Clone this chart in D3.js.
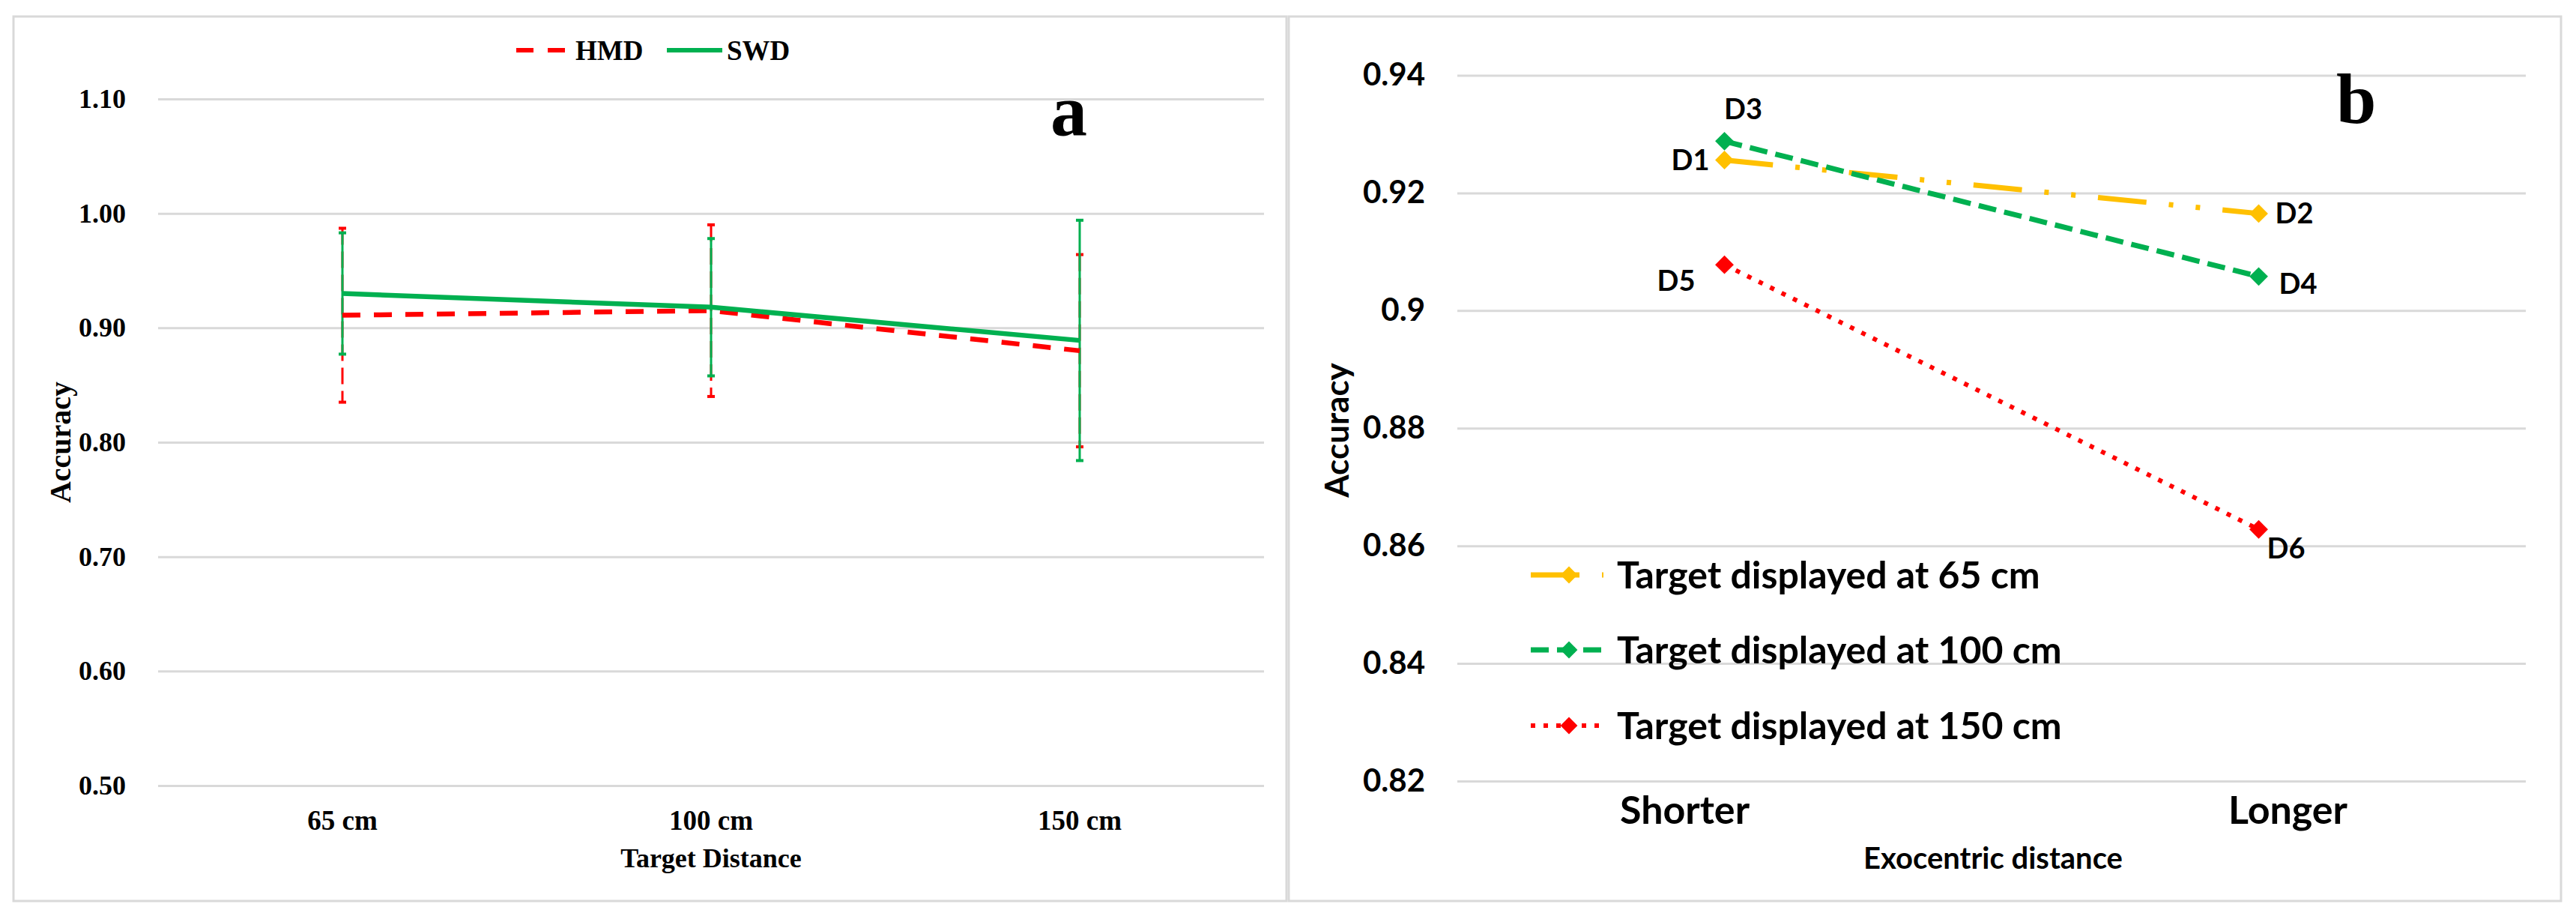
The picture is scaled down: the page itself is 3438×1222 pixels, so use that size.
<!DOCTYPE html>
<html><head><meta charset="utf-8">
<script src="https://cdn.jsdelivr.net/npm/d3@7"></script>
<style>html,body{margin:0;padding:0;background:#fff;} svg{display:block}</style>
</head><body>
<svg id="chart" width="3438" height="1222"></svg>
<script>
// ---------- data ----------
const distCategories = ["65 cm", "100 cm", "150 cm"];
const seriesNamesA = ["HMD", "SWD"];
const hmdMean = [0.911, 0.915, 0.880];
const hmdErr  = [0.076, 0.075, 0.084];
const swdMean = [0.930, 0.918, 0.889];
const swdErr  = [0.053, 0.060, 0.105];
const ticksA = [0.50, 0.60, 0.70, 0.80, 0.90, 1.00, 1.10];
const tickLabelsA = ["0.50", "0.60", "0.70", "0.80", "0.90", "1.00", "1.10"];

const exoCategories = ["Shorter", "Longer"];
const seriesNamesB = ["Target displayed at 65 cm", "Target displayed at 100 cm", "Target displayed at 150 cm"];
const acc65  = [0.9256, 0.9165];
const acc100 = [0.9288, 0.9058];
const acc150 = [0.9078, 0.8628];
const pointLabels65  = ["D1", "D2"];
const pointLabels100 = ["D3", "D4"];
const pointLabels150 = ["D5", "D6"];
const ticksB = [0.82, 0.84, 0.86, 0.88, 0.90, 0.92, 0.94];
const tickLabelsB = ["0.82", "0.84", "0.86", "0.88", "0.9", "0.92", "0.94"];

// ---------- styling ----------
const GRID = "#d9d9d9";
const RED = "#FF0000", GREEN = "#00B050", YELLOW = "#FFC000";
const serifFont = "'Liberation Serif','Times New Roman',serif";
const sansFont = "Lato,'Open Sans',sans-serif";

const svg = d3.select("#chart");
svg.append("rect").attr("width", 3438).attr("height", 1222).attr("fill", "#fff");

// panel borders
svg.append("rect").attr("x", 18).attr("y", 22).attr("width", 1699).attr("height", 1180)
  .attr("fill", "none").attr("stroke", GRID).attr("stroke-width", 3);
svg.append("rect").attr("x", 1720).attr("y", 22).attr("width", 1698).attr("height", 1180)
  .attr("fill", "none").attr("stroke", GRID).attr("stroke-width", 3);

// ================= Panel a =================
const xA = d3.scaleBand().domain(distCategories).range([211, 1687]);
const yA = d3.scaleLinear().domain([0.5, 1.1]).range([1048, 132]);
const cxA = c => xA(c) + xA.bandwidth() / 2;
const gA = svg.append("g");

gA.append("g").attr("transform", "translate(211,0)")
  .call(d3.axisLeft(yA).tickValues(ticksA).tickFormat((d, i) => tickLabelsA[i])
        .tickSize(-(1687 - 211)).tickPadding(43))
  .call(g => {
    g.select(".domain").remove();
    g.selectAll(".tick line").attr("stroke", GRID).attr("stroke-width", 3);
    g.selectAll(".tick text").attr("font-family", serifFont).attr("font-weight", "bold")
      .attr("font-size", 36).attr("fill", "#000");
  });

gA.append("g").attr("transform", "translate(0,1048)")
  .call(d3.axisBottom(xA).tickSize(0).tickPadding(33))
  .call(g => {
    g.select(".domain").remove();
    g.selectAll(".tick text").attr("font-family", serifFont).attr("font-weight", "bold")
      .attr("font-size", 37).attr("fill", "#000");
  });

gA.append("text").text("Target Distance")
  .attr("x", (211 + 1687) / 2).attr("y", 1157).attr("text-anchor", "middle")
  .attr("font-family", serifFont).attr("font-weight", "bold").attr("font-size", 36);

gA.append("text").text("Accuracy")
  .attr("transform", "translate(94,590) rotate(-90)").attr("text-anchor", "middle")
  .attr("font-family", serifFont).attr("font-weight", "bold").attr("font-size", 40);

gA.append("text").text("a").attr("x", 1402).attr("y", 180)
  .attr("font-family", serifFont).attr("font-weight", "bold").attr("font-size", 98);

// error bars
function errorBars(means, errs, color, dash) {
  const g = gA.append("g");
  distCategories.forEach((c, i) => {
    const x = cxA(c), y1 = yA(means[i] + errs[i]), y2 = yA(means[i] - errs[i]);
    g.append("line").attr("x1", x).attr("x2", x).attr("y1", y1).attr("y2", y2)
      .attr("stroke", color).attr("stroke-width", 3).attr("stroke-dasharray", dash);
    [y1, y2].forEach(yy => g.append("line").attr("x1", x - 5).attr("x2", x + 5)
      .attr("y1", yy).attr("y2", yy).attr("stroke", color).attr("stroke-width", 4));
  });
}
errorBars(hmdMean, hmdErr, RED, "22,9");
errorBars(swdMean, swdErr, GREEN, null);

const lineA = d3.line().x((d, i) => cxA(distCategories[i])).y(d => yA(d));
gA.append("path").datum(hmdMean).attr("d", lineA).attr("fill", "none")
  .attr("stroke", RED).attr("stroke-width", 6.5).attr("stroke-dasharray", "24,18");
gA.append("path").datum(swdMean).attr("d", lineA).attr("fill", "none")
  .attr("stroke", GREEN).attr("stroke-width", 6.5);

// legend a
const legA = gA.append("g");
const legItemsA = [
  {name: seriesNamesA[0], color: RED, dash: "23,19", x0: 689, x1: 755, tx: 768},
  {name: seriesNamesA[1], color: GREEN, dash: null, x0: 890, x1: 964, tx: 970}
];
legItemsA.forEach(it => {
  legA.append("line").attr("x1", it.x0).attr("x2", it.x1).attr("y1", 67).attr("y2", 67)
    .attr("stroke", it.color).attr("stroke-width", 6).attr("stroke-dasharray", it.dash);
  legA.append("text").text(it.name).attr("x", it.tx).attr("y", 67).attr("dy", "0.34em")
    .attr("font-family", serifFont).attr("font-weight", "bold").attr("font-size", 37);
});

// ================= Panel b =================
const xB = d3.scaleBand().domain(exoCategories).range([1945, 3371]);
const yB = d3.scaleLinear().domain([0.82, 0.94]).range([1042, 100.5]);
const cxB = c => xB(c) + xB.bandwidth() / 2;
const gB = svg.append("g");

gB.append("g").attr("transform", "translate(1945,0)")
  .call(d3.axisLeft(yB).tickValues(ticksB).tickFormat((d, i) => tickLabelsB[i])
        .tickSize(-(3371 - 1945)).tickPadding(43))
  .call(g => {
    g.select(".domain").remove();
    g.selectAll(".tick line").attr("stroke", GRID).attr("stroke-width", 3);
    g.selectAll(".tick text").attr("font-family", sansFont).attr("font-weight", "bold")
      .attr("font-size", 42).attr("fill", "#000");
  });

const catLabelShift = [-53, 39];
gB.append("g").attr("transform", "translate(0,1042)")
  .call(d3.axisBottom(xB).tickSize(0).tickPadding(20))
  .call(g => {
    g.select(".domain").remove();
    g.selectAll(".tick text").attr("font-family", sansFont).attr("font-weight", "bold")
      .attr("font-size", 52).attr("fill", "#000")
      .attr("dx", (d, i) => catLabelShift[i]);
  });

gB.append("text").text("Exocentric distance")
  .attr("x", 2660).attr("y", 1145).attr("dy", "0.35em").attr("text-anchor", "middle")
  .attr("font-family", sansFont).attr("font-weight", "bold").attr("font-size", 40);

gB.append("text").text("Accuracy")
  .attr("transform", "translate(1785,574) rotate(-90)").attr("dy", "0.35em").attr("text-anchor", "middle")
  .attr("font-family", sansFont).attr("font-weight", "bold").attr("font-size", 44);

gB.append("text").text("b").attr("x", 3118).attr("y", 164)
  .attr("font-family", serifFont).attr("font-weight", "bold").attr("font-size", 96);

const seriesB = [
  {name: seriesNamesB[0], values: acc65, labels: pointLabels65, color: YELLOW, dash: "65,30,6,30,6,30", width: 7},
  {name: seriesNamesB[1], values: acc100, labels: pointLabels100, color: GREEN, dash: "24,11", width: 7},
  {name: seriesNamesB[2], values: acc150, labels: pointLabels150, color: RED, dash: "6,11", width: 6}
];
// label placement (dx, dy, anchor) per series per point
const labelPlacement = [
  [{dx: -20, dy: 0, a: "end"}, {dx: 22, dy: 0, a: "start"}],
  [{dx: 25, dy: -43, a: "middle"}, {dx: 27, dy: 10, a: "start"}],
  [{dx: -39, dy: 22, a: "end"}, {dx: 11, dy: 26, a: "start"}]
];
const diamond = d3.symbol().type(d3.symbolSquare).size(310);
const lineB = d3.line().x((d, i) => cxB(exoCategories[i])).y(d => yB(d));

seriesB.forEach((s, si) => {
  const g = gB.append("g");
  g.append("path").datum(s.values).attr("d", lineB).attr("fill", "none")
    .attr("stroke", s.color).attr("stroke-width", s.width).attr("stroke-dasharray", s.dash);
  s.values.forEach((v, i) => {
    const x = cxB(exoCategories[i]), y = yB(v);
    g.append("path").attr("d", diamond).attr("fill", s.color)
      .attr("transform", `translate(${x},${y}) rotate(45)`);
  });
});
seriesB.forEach((s, si) => {
  s.values.forEach((v, i) => {
    const x = cxB(exoCategories[i]), y = yB(v), p = labelPlacement[si][i];
    gB.append("text").text(s.labels[i]).attr("x", x + p.dx).attr("y", y + p.dy).attr("dy", "0.35em")
      .attr("text-anchor", p.a).attr("font-family", sansFont).attr("font-weight", "bold")
      .attr("font-size", 38);
  });
});

// legend b
const legRowY = [767, 867, 968];
const legDiamond = d3.symbol().type(d3.symbolSquare).size(260);
seriesB.forEach((s, si) => {
  const y = legRowY[si];
  gB.append("line").attr("x1", 2043).attr("x2", 2140).attr("y1", y).attr("y2", y)
    .attr("stroke", s.color).attr("stroke-width", s.width).attr("stroke-dasharray", s.dash);
  gB.append("path").attr("d", legDiamond).attr("fill", s.color)
    .attr("transform", `translate(2094,${y}) rotate(45)`);
  gB.append("text").text(s.name).attr("x", 2158).attr("y", y).attr("dy", "0.35em")
    .attr("font-family", sansFont).attr("font-weight", "bold").attr("font-size", 50);
});
</script>
</body></html>
